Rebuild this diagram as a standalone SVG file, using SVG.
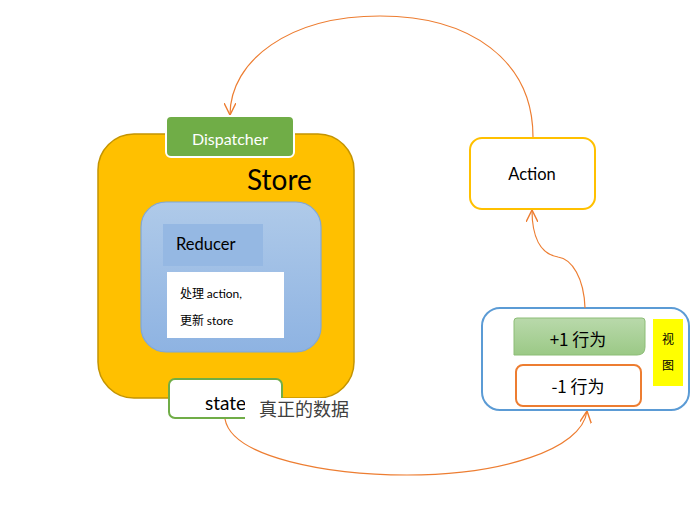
<svg xmlns="http://www.w3.org/2000/svg" width="700" height="515" viewBox="0 0 700 515">
<defs>
<linearGradient id="blueGrad" x1="0" y1="0" x2="0" y2="1">
<stop offset="0" stop-color="#AFCAE9"/>
<stop offset="1" stop-color="#8EB3E2"/>
</linearGradient>
<linearGradient id="greenGrad" x1="0" y1="0" x2="0" y2="1">
<stop offset="0" stop-color="#B9D9AB"/>
<stop offset="1" stop-color="#9BC986"/>
</linearGradient>
<marker id="arrow" viewBox="0 0 10 10" refX="10" refY="5" markerWidth="12" markerHeight="12" markerUnits="userSpaceOnUse" orient="auto">
<path d="M0,0 L10,5 L0,10" fill="none" stroke="#ED7D31" stroke-width="1.2"/>
</marker>
<style>
.t{font-family:Lato,"Noto Sans","Noto Sans CJK SC",sans-serif;fill:#000}
.c{font-family:"Noto Sans CJK SC",sans-serif;fill:#000}
.conn{fill:none;stroke:#ED7D31;stroke-width:1.2;marker-end:url(#arrow)}
</style>
</defs>
<rect width="700" height="515" fill="#fff"/>

<g id="store">
<rect x="98" y="134" width="256" height="264" rx="36" fill="#FFC000" stroke="#C49400" stroke-width="1.5"/>
<text class="t" x="247" y="190" font-size="28">Store</text>
</g>

<g id="dispatcher">
<rect x="166" y="116" width="128" height="41" rx="5" fill="#70AD47" stroke="#fff" stroke-width="2"/>
<text class="t" x="230" y="145" font-size="16" text-anchor="middle" style="fill:#fff">Dispatcher</text>
</g>

<g id="reducer-container">
<rect x="141" y="202" width="180" height="150" rx="25" fill="url(#blueGrad)" stroke="#7FA7D8" stroke-width="1.2"/>
</g>

<g id="reducer">
<rect x="163" y="224" width="100" height="42" fill="#95B8E3"/>
<text class="t" x="176" y="250" font-size="16.5">Reducer</text>
</g>

<g id="reducer-desc">
<rect x="167" y="272" width="117" height="66" fill="#fff"/>
<text class="c" x="180" y="298" font-size="12">处理 <tspan class="t" font-size="12">action,</tspan></text>
<text class="c" x="180" y="325" font-size="12">更新 <tspan class="t" font-size="12">store</tspan></text>
</g>

<g id="state">
<rect x="169" y="379" width="113" height="39" rx="6" fill="#fff" stroke="#70AD47" stroke-width="2"/>
<text class="t" x="205" y="410" font-size="19">state</text>
</g>

<g id="state-label">
<rect x="245" y="398" width="110" height="28" fill="#fff"/>
<text class="c" x="259" y="416" font-size="18" style="fill:#404040">真正的数据</text>
</g>

<g id="action">
<rect x="470" y="138" width="125" height="71" rx="12" fill="#fff" stroke="#FFC000" stroke-width="2"/>
<text class="t" x="532" y="180" font-size="16.5" text-anchor="middle">Action</text>
</g>

<g id="view">
<rect x="482" y="308" width="207" height="102" rx="18" fill="#fff" stroke="#5B9BD5" stroke-width="2"/>
</g>

<g id="plus-one">
<path d="M517,318 L642,318 Q645,318 645,321 L645,347 Q645,355 637,355 L514,355 L514,321 Q514,318 517,318 Z" fill="url(#greenGrad)" stroke="#8CBD76" stroke-width="1"/>
<text class="c" x="578" y="346" font-size="17" text-anchor="middle">+1 行为</text>
</g>

<g id="minus-one">
<rect x="516" y="365" width="125" height="41" rx="7" fill="#fff" stroke="#ED7D31" stroke-width="2"/>
<text class="c" x="578" y="393" font-size="17" text-anchor="middle">-1 行为</text>
</g>

<g id="view-label">
<rect x="653" y="319" width="30" height="67" fill="#FFFF00"/>
<text class="c" x="668" y="344" font-size="12" text-anchor="middle">视</text>
<text class="c" x="668" y="370" font-size="12" text-anchor="middle">图</text>
</g>

<g id="connectors">
<path class="conn" d="M533,137 C533,60 470,16 380,16 C290,16 230,60 230,115"/>
<path class="conn" d="M585,308 C584,278 572,259 558,257 C540,254 532,236 532,210"/>
<path class="conn" d="M225,419 C232,458 330,475 407,475 C500,475 582,450 587,411"/>
</g>
</svg>
